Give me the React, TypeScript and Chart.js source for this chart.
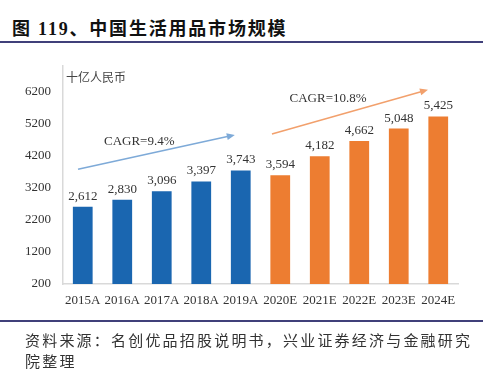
import React, { useEffect, useRef } from "react";
import { Chart, registerables } from "chart.js";

Chart.register(...registerables);

const categories = ["2015A", "2016A", "2017A", "2018A", "2019A", "2020E", "2021E", "2022E", "2023E", "2024E"];
const marketSize = [2612, 2830, 3096, 3397, 3743, 3594, 4182, 4662, 5048, 5425];
const yTicks = [200, 1200, 2200, 3200, 4200, 5200, 6200];
const cagrLabels = ["CAGR=9.4%", "CAGR=10.8%"];
// arrows in data space: [startIndex, startValue, endIndex, endValue]
const cagrArrows = [
  [-0.12, 3780, 3.85, 4850],
  [4.79, 4880, 8.74, 6260],
];
// label anchor: [index, value]
const cagrLabelPos = [
  [1.43, 4630],
  [6.21, 5980],
];

const BLUE = "#1a66b0";
const ORANGE = "#ed7d31";
const ARROW_COLORS = ["#7eaad8", "#f2a06c"];

const fmt = (v: number) => v.toLocaleString("en-US");

const overlayPlugin = {
  id: "overlay",
  afterDatasetsDraw(chart: any) {
    const { ctx } = chart;
    const xs = chart.scales.x;
    const ys = chart.scales.y;
    const meta = chart.getDatasetMeta(0);
    ctx.save();
    ctx.font = '13px "Liberation Serif", serif';
    ctx.fillStyle = "#333";
    ctx.textAlign = "center";
    ctx.textBaseline = "bottom";
    meta.data.forEach((bar: any, i: number) => {
      ctx.fillText(fmt(marketSize[i]), bar.x, bar.y - 4);
    });
    const px = (idx: number) => {
      const step = xs.getPixelForValue(1) - xs.getPixelForValue(0);
      return xs.getPixelForValue(0) + idx * step;
    };
    cagrArrows.forEach((a, k) => {
      const x1 = px(a[0]);
      const y1 = ys.getPixelForValue(a[1]);
      const x2 = px(a[2]);
      const y2 = ys.getPixelForValue(a[3]);
      const ang = Math.atan2(y2 - y1, x2 - x1);
      const head = 8;
      ctx.strokeStyle = ARROW_COLORS[k];
      ctx.fillStyle = ARROW_COLORS[k];
      ctx.lineWidth = 1.5;
      ctx.beginPath();
      ctx.moveTo(x1, y1);
      ctx.lineTo(x2 - head * 0.8 * Math.cos(ang), y2 - head * 0.8 * Math.sin(ang));
      ctx.stroke();
      ctx.beginPath();
      ctx.moveTo(x2, y2);
      ctx.lineTo(x2 - head * Math.cos(ang) + 3.5 * Math.sin(ang), y2 - head * Math.sin(ang) - 3.5 * Math.cos(ang));
      ctx.lineTo(x2 - head * Math.cos(ang) - 3.5 * Math.sin(ang), y2 - head * Math.sin(ang) + 3.5 * Math.cos(ang));
      ctx.closePath();
      ctx.fill();
    });
    ctx.fillStyle = "#333";
    ctx.textBaseline = "middle";
    cagrLabelPos.forEach((p, k) => {
      ctx.fillText(cagrLabels[k], px(p[0]), ys.getPixelForValue(p[1]));
    });
    ctx.restore();
  },
};

export default function App() {
  const ref = useRef<HTMLCanvasElement>(null);
  useEffect(() => {
    if (!ref.current) return;
    const chart = new Chart(ref.current, {
      type: "bar",
      data: {
        labels: categories,
        datasets: [
          {
            data: marketSize,
            backgroundColor: categories.map((c) => (c.endsWith("A") ? BLUE : ORANGE)),
            categoryPercentage: 1,
            barPercentage: 0.5,
          },
        ],
      },
      options: {
        responsive: false,
        animation: false,
        layout: { padding: { left: 8, right: 42, top: 66, bottom: 66 } },
        plugins: { legend: { display: false }, tooltip: { enabled: false } },
        scales: {
          x: {
            grid: { display: false, drawTicks: false },
            border: { display: true, color: "#d9d9d9", width: 1.5 },
            ticks: { color: "#333", padding: 9, font: { family: "Liberation Serif", size: 13 }, maxRotation: 0, autoSkip: false },
            afterFit: (s: any) => {
              s.height = 25;
            },
          },
          y: {
            min: 200,
            max: 7000,
            grid: { display: false, drawTicks: false },
            border: { display: true, color: "#d9d9d9", width: 1.5 },
            ticks: {
              color: "#333",
              padding: 12,
              font: { family: "Liberation Serif", size: 13 },
              callback: (v: any) => String(v),
            },
            afterBuildTicks: (s: any) => {
              s.ticks = yTicks.map((v) => ({ value: v }));
            },
            afterFit: (s: any) => {
              s.width = 55;
            },
          },
        },
      },
      plugins: [overlayPlugin],
    });
    return () => chart.destroy();
  }, []);

  const cjk = '"Liberation Serif", "Noto Sans CJK SC", serif';
  return (
    <div style={{ position: "absolute", left: 0, top: 0, width: 500, height: 375, background: "#fff", overflow: "hidden" }}>
      <div
        style={{
          position: "absolute",
          left: 12,
          top: 17,
          fontFamily: cjk,
          fontWeight: "bold",
          fontSize: 18,
          letterSpacing: 1.8,
          color: "#111",
          whiteSpace: "nowrap",
          lineHeight: "24px",
        }}
      >
        图 119、中国生活用品市场规模
      </div>
      <div style={{ position: "absolute", left: 0, top: 41, width: 483, height: 2, background: "#40407a" }} />
      <canvas ref={ref} width={500} height={375} style={{ position: "absolute", left: 0, top: 0 }} />
      <div
        style={{
          position: "absolute",
          left: 66,
          top: 69,
          fontFamily: '"Noto Sans CJK SC", sans-serif',
          fontSize: 12,
          color: "#444",
          whiteSpace: "nowrap",
          lineHeight: "16px",
        }}
      >
        十亿人民币
      </div>
      <div style={{ position: "absolute", left: 0, top: 320, width: 483, height: 2, background: "#40407a" }} />
      <div
        style={{
          position: "absolute",
          left: 25,
          top: 331,
          fontFamily: cjk,
          fontSize: 15,
          letterSpacing: 2.2,
          color: "#333",
          whiteSpace: "nowrap",
          lineHeight: "21px",
        }}
      >
        资料来源：名创优品招股说明书，兴业证券经济与金融研究
        <br />
        院整理
      </div>
    </div>
  );
}
